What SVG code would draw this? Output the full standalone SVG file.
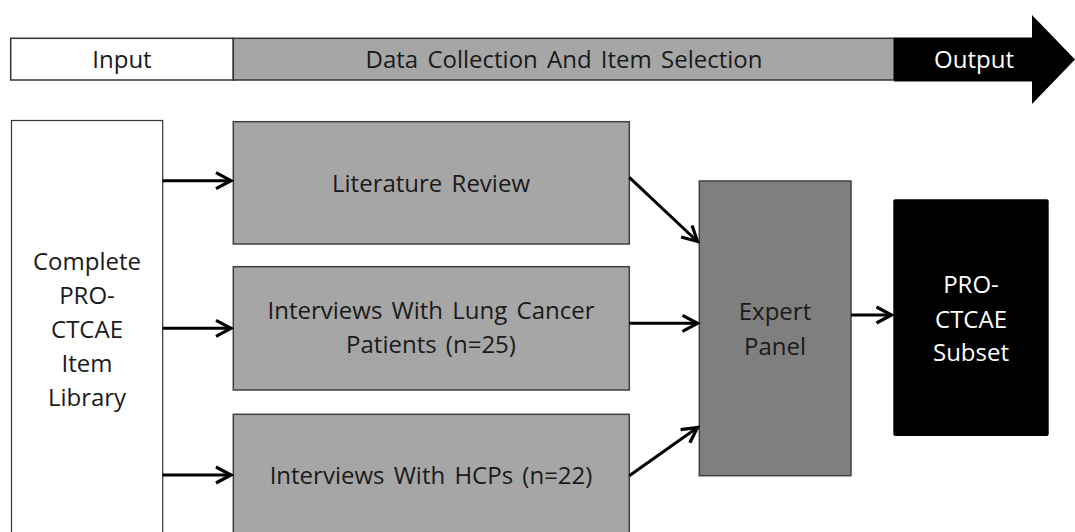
<svg xmlns="http://www.w3.org/2000/svg" width="1075" height="532" viewBox="0 0 1075 532">
  <defs>
    <style>
      text { font-family: "Open Sans", "Liberation Sans", sans-serif; font-size: 24px; text-anchor: middle; fill: #1a1a1a; word-spacing: 3px; }
      text.w { fill: #ffffff; }
      .band { stroke: #333333; stroke-width: 1.5; }
      .box { fill: #a6a6a6; stroke: #404040; stroke-width: 1.5; }
      .conn { stroke: #000000; stroke-width: 3; fill: none; marker-end: url(#ah); }
    </style>
    <marker id="ah" markerUnits="userSpaceOnUse" viewBox="-20 -12 24 24" markerWidth="24" markerHeight="24" refX="0" refY="0" orient="auto">
      <path d="M-15,-8 L0,0 L-15,8" fill="none" stroke="#000000" stroke-width="3.2" stroke-linejoin="miter"/>
    </marker>
  </defs>

  <g id="timeline">
    <rect x="10.7" y="38.3" width="222.6" height="41.7" fill="#ffffff" class="band"/>
    <rect x="233.3" y="38.3" width="660.7" height="41.7" fill="#a6a6a6" class="band"/>
    <polygon points="894,37.5 1032,37.5 1032,15 1075,59.5 1032,104 1032,81.5 894,81.5" fill="#000000"/>
    <text x="122" y="68">Input</text>
    <text x="564" y="68">Data Collection And Item Selection</text>
    <text class="w" x="974" y="68">Output</text>
  </g>

  <g id="library">
    <rect x="11.5" y="120.5" width="151.2" height="430" fill="#ffffff" stroke="#333333" stroke-width="1.2"/>
    <text x="87" y="270">Complete</text>
    <text x="87" y="304">PRO-</text>
    <text x="87" y="338">CTCAE</text>
    <text x="87" y="372">Item</text>
    <text x="87" y="406">Library</text>
  </g>

  <g id="literature">
    <rect class="box" x="233.3" y="121.7" width="396" height="122.3"/>
    <text x="431" y="192">Literature Review</text>
  </g>

  <g id="lung">
    <rect class="box" x="233.3" y="266.7" width="396" height="123.3"/>
    <text x="431" y="319">Interviews With Lung Cancer</text>
    <text x="431" y="353">Patients (n=25)</text>
  </g>

  <g id="hcp">
    <rect class="box" x="233.3" y="414.3" width="396" height="130"/>
    <text x="431" y="484">Interviews With HCPs (n=22)</text>
  </g>

  <g id="expert">
    <rect x="699.3" y="181" width="151.7" height="294.7" fill="#7f7f7f" stroke="#404040" stroke-width="1.5"/>
    <text x="775" y="320">Expert</text>
    <text x="775" y="355">Panel</text>
  </g>

  <g id="subset">
    <rect x="893.3" y="199.3" width="155.4" height="236.7" rx="2" fill="#000000"/>
    <text class="w" x="971" y="293">PRO-</text>
    <text class="w" x="971" y="327.5">CTCAE</text>
    <text class="w" x="971" y="361">Subset</text>
  </g>

  <g id="connectors">
    <line class="conn" x1="162.7" y1="180.7" x2="231" y2="180.7"/>
    <line class="conn" x1="162.7" y1="328.3" x2="231" y2="328.3"/>
    <line class="conn" x1="162.7" y1="475" x2="231" y2="475"/>
    <line class="conn" x1="629.3" y1="177.3" x2="697.5" y2="241.5"/>
    <line class="conn" x1="629.3" y1="323.3" x2="697.5" y2="323.3"/>
    <line class="conn" x1="629.3" y1="475.7" x2="697.5" y2="427.5"/>
    <line class="conn" x1="851" y1="315" x2="891.5" y2="315"/>
  </g>
</svg>
